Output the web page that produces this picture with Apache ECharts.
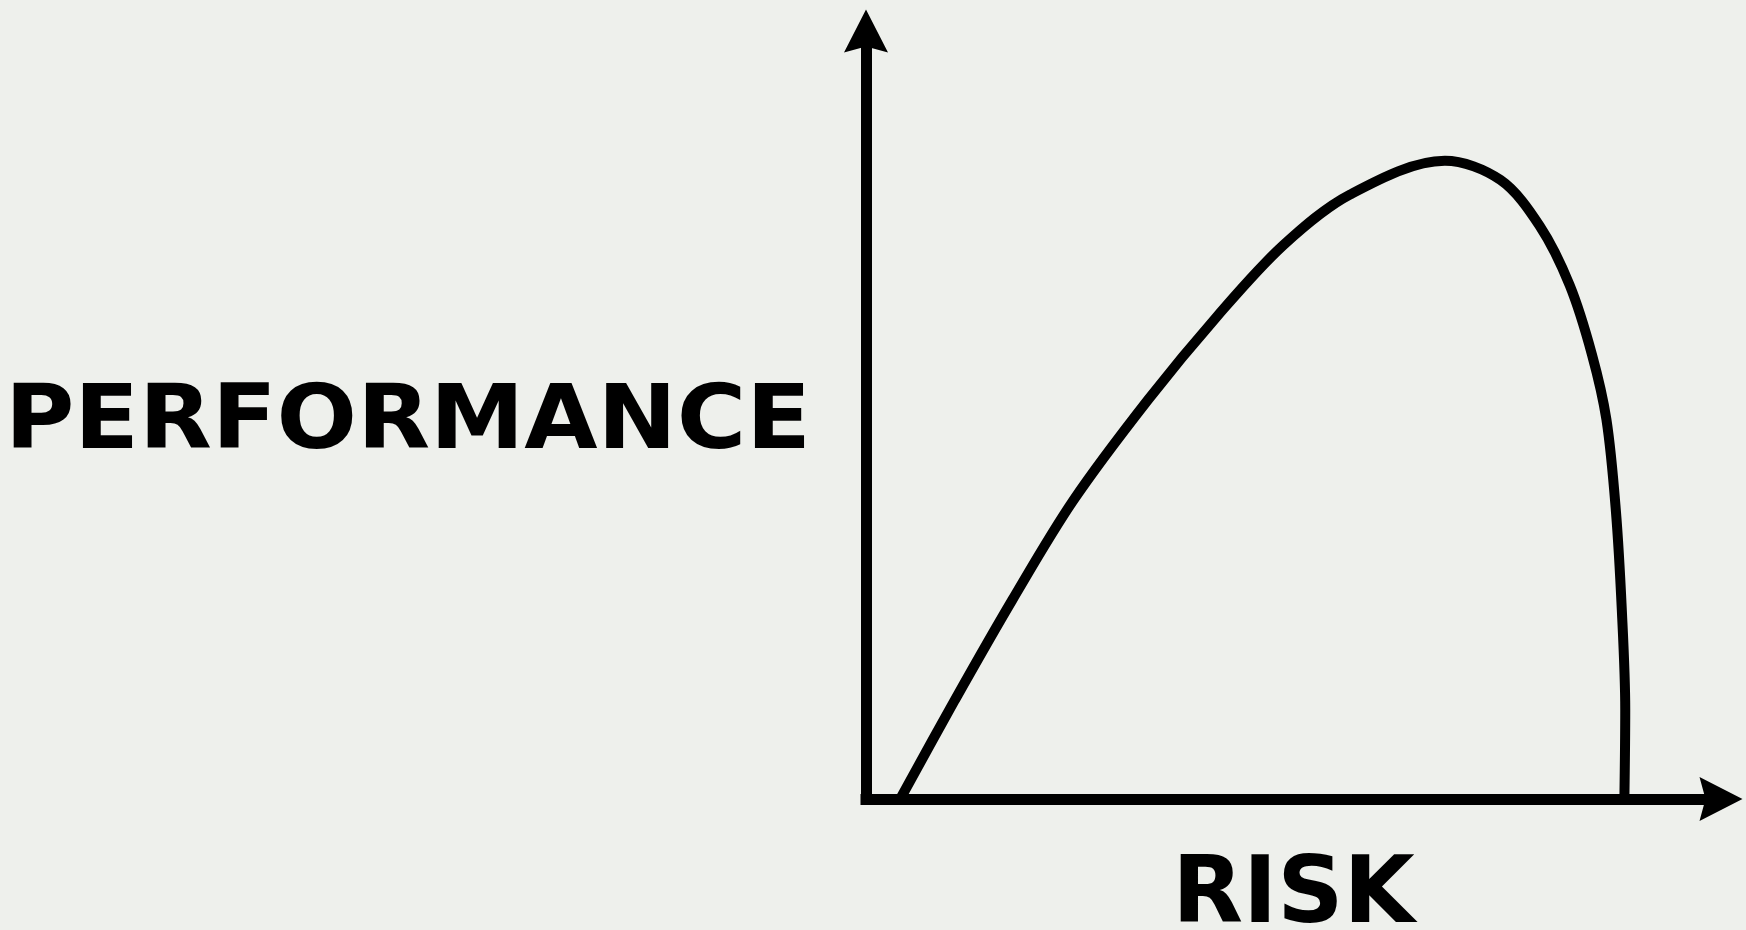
<!DOCTYPE html>
<html>
<head>
<meta charset="utf-8">
<script src="https://cdn.jsdelivr.net/npm/echarts@6/dist/echarts.min.js"></script>
<style>
  html, body { margin: 0; padding: 0; background: #eef0ec; }
  #chart { width: 1746px; height: 930px; }
</style>
</head>
<body>
<div id="chart"></div>
<script>
// Axis titles
const xAxisTitle = 'RISK';
const yAxisTitle = 'PERFORMANCE';

// Curve (risk, performance), arbitrary 0-100 units
const riskValues = [4.0, 10.4, 17.1, 24.2, 33.0, 41.1, 48.8, 56.6, 67.7, 74.2, 78.8, 82.3, 84.9, 86.6, 87.7, 88.4, 88.8, 88.7];
const performanceValues = [0, 12.9, 25.9, 38.8, 52.0, 62.9, 72.1, 78.7, 83.1, 80.6, 74.6, 66.9, 57.9, 49.4, 37.6, 24.6, 11.6, 0];

const curve = riskValues.map((r, i) => [r, performanceValues[i]]);

const chart = echarts.init(document.getElementById('chart'), null, { renderer: 'canvas' });

const arrowPath = 'path://M22,0 L44,43 L22,37 L0,43 Z';

const axisCommon = {
  type: 'value',
  min: 0,
  max: 100,
  axisTick: { show: false },
  axisLabel: { show: false },
  splitLine: { show: false },
  axisLine: {
    show: true,
    onZero: false,
    symbol: ['none', arrowPath],
    symbolSize: [44, 43],
    symbolOffset: [0, 0],
    lineStyle: { color: '#000', width: 11, cap: 'square' }
  }
};

chart.setOption({
  backgroundColor: '#eef0ec',
  animation: false,
  grid: { left: 866, right: 25, top: 31, bottom: 131, containLabel: false, outerBoundsMode: 'none' },
  xAxis: Object.assign({}, axisCommon, {
    name: xAxisTitle,
    nameLocation: 'middle',
    nameGap: 53,
    nameTextStyle: {
      fontFamily: 'DejaVu Sans',
      fontWeight: 'bold',
      fontSize: 92,
      color: '#000'
    }
  }),
  yAxis: Object.assign({}, axisCommon),
  graphic: [{
    type: 'text',
    x: 811,
    y: 425,
    scaleX: 1.064,
    silent: true,
    style: {
      text: yAxisTitle,
      x: 0,
      y: 0,
      align: 'right',
      verticalAlign: 'middle',
      fontFamily: 'DejaVu Sans',
      fontWeight: 'bold',
      fontSize: 89,
      fill: '#000'
    }
  }],
  series: [{
    type: 'line',
    data: curve,
    smooth: 0.33,
    symbol: 'none',
    lineStyle: { color: '#000', width: 10 },
    z: 1
  }]
});
</script>
</body>
</html>
